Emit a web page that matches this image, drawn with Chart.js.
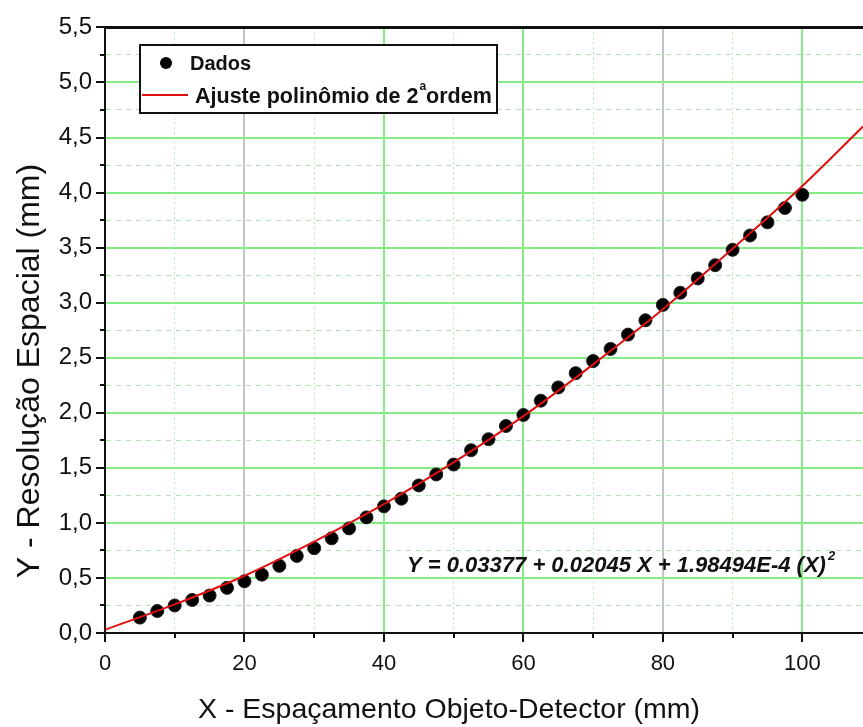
<!DOCTYPE html>
<html>
<head>
<meta charset="utf-8">
<script src="https://cdn.jsdelivr.net/npm/chart.js@4/dist/chart.umd.min.js"></script>
<style>
  html, body { margin: 0; padding: 0; background: #fff; }
  #wrap { width: 863px; height: 727px; }
</style>
</head>
<body>
<div id="wrap"><canvas id="chart" width="863" height="727"></canvas></div>
<script>
// espaçamento objeto-detector (mm) e resolução espacial (mm)
const spacing = [5, 7.5, 10, 12.5, 15, 17.5, 20, 22.5, 25, 27.5, 30, 32.5, 35, 37.5, 40, 42.5, 45, 47.5, 50,
                 52.5, 55, 57.5, 60, 62.5, 65, 67.5, 70, 72.5, 75, 77.5, 80, 82.5, 85, 87.5, 90, 92.5, 95, 97.5, 100];
const resolution = [0.14, 0.20, 0.25, 0.30, 0.34, 0.41, 0.47, 0.53, 0.61, 0.70, 0.77, 0.86, 0.95, 1.05, 1.15, 1.22, 1.34, 1.44, 1.53,
                    1.66, 1.76, 1.88, 1.98, 2.11, 2.23, 2.36, 2.47, 2.58, 2.71, 2.84, 2.98, 3.09, 3.22, 3.34, 3.48, 3.61, 3.73, 3.86, 3.98];

// curva de ajuste
const fitX = [0, 10, 20, 30, 40, 50, 60, 70, 80, 90, 100, 108.7];
const fitY = [0.03, 0.26, 0.52, 0.83, 1.17, 1.55, 1.97, 2.44, 2.94, 3.49, 4.06, 4.60];

const xMax = 108.7;
const yMax = 5.5;

const font = "'Liberation Sans', Arial, sans-serif";

const isMajorX = v => v % 20 === 0;
const isMajorY = v => Math.abs(v * 2 - Math.round(v * 2)) < 1e-6;

// ticks, titles, legend box and equation
const decorations = {
  id: 'decorations',
  afterDraw(chart) {
    const { ctx, chartArea: a, scales: { x, y } } = chart;
    ctx.save();
    ctx.strokeStyle = '#111';
    ctx.lineWidth = 2;
    ctx.beginPath();
    x.ticks.forEach(t => {
      const px = Math.round(x.getPixelForValue(t.value));
      ctx.moveTo(px, a.bottom);
      ctx.lineTo(px, a.bottom + (isMajorX(t.value) ? 9 : 5));
    });
    y.ticks.forEach(t => {
      const py = Math.round(y.getPixelForValue(t.value));
      ctx.moveTo(a.left, py);
      ctx.lineTo(a.left - (isMajorY(t.value) ? 9 : 5), py);
    });
    ctx.stroke();

    // axis titles
    ctx.fillStyle = '#111';
    ctx.textAlign = 'center';
    ctx.textBaseline = 'middle';
    ctx.font = '28.5px ' + font;
    ctx.fillText('X - Espaçamento Objeto-Detector (mm)', 449, 710);
    ctx.save();
    ctx.translate(30, 371);
    ctx.rotate(-Math.PI / 2);
    ctx.font = '32px ' + font;
    ctx.fillText('Y - Resolução Espacial (mm)', 0, 0);
    ctx.restore();

    // legend
    const lx = 140, ly = 45, lw = 357, lh = 68;
    ctx.fillStyle = '#fff';
    ctx.fillRect(lx, ly, lw, lh);
    ctx.strokeStyle = '#111';
    ctx.lineWidth = 2;
    ctx.strokeRect(lx, ly, lw, lh);
    ctx.fillStyle = '#000';
    ctx.beginPath();
    ctx.arc(166, 63, 6, 0, Math.PI * 2);
    ctx.fill();
    ctx.strokeStyle = '#e01010';
    ctx.beginPath();
    ctx.moveTo(142, 95);
    ctx.lineTo(188, 95);
    ctx.stroke();
    ctx.fillStyle = '#111';
    ctx.textAlign = 'left';
    ctx.font = 'bold 20px ' + font;
    ctx.fillText('Dados', 190, 64);
    ctx.font = 'bold 21.5px ' + font;
    let t1 = 'Ajuste polinômio de 2';
    ctx.fillText(t1, 195, 97);
    let w1 = ctx.measureText(t1).width;
    ctx.font = 'bold 12px ' + font;
    ctx.fillText('a', 195 + w1 + 1, 87);
    let w2 = ctx.measureText('a').width;
    ctx.font = 'bold 21.5px ' + font;
    ctx.fillText('ordem', 195 + w1 + w2 + 1, 97);

    // equation
    ctx.font = 'italic bold 22px ' + font;
    const eq = 'Y = 0.03377 + 0.02045 X + 1.98494E-4 (X)';
    ctx.fillText(eq, 407, 566);
    const we = ctx.measureText(eq).width;
    ctx.font = 'italic bold 13px ' + font;
    ctx.fillText('2', 407 + we + 2, 556);
    ctx.restore();
  }
};

new Chart('chart', {
  type: 'scatter',
  plugins: [decorations],
  data: {
    datasets: [
      {
        label: 'Ajuste polinômio de 2ªordem',
        data: fitX.map((v, i) => ({ x: v, y: fitY[i] })),
        showLine: true,
        borderColor: '#e01010',
        borderWidth: 2,
        pointRadius: 0,
        cubicInterpolationMode: 'monotone',
        order: 0
      },
      {
        label: 'Dados',
        data: spacing.map((v, i) => ({ x: v, y: resolution[i] })),
        backgroundColor: '#000',
        borderColor: '#222',
        borderWidth: 1,
        pointRadius: 6.5,
        order: 1
      }
    ]
  },
  options: {
    responsive: false,
    animation: false,
    layout: { autoPadding: false, padding: { top: 24, right: 0, left: 0, bottom: 0 } },
    plugins: { legend: { display: false }, tooltip: { enabled: false } },
    scales: {
      x: {
        type: 'linear',
        min: 0,
        max: xMax,
        afterBuildTicks: s => { s.ticks = s.ticks.filter(t => t.value % 10 === 0); },
        afterFit: s => { s.height = 94; s.paddingRight = 0; },
        ticks: {
          stepSize: 10,
          includeBounds: false,
          autoSkip: false,
          maxRotation: 0,
          padding: 18,
          color: '#111',
          font: { family: font, size: 22 },
          callback: v => isMajorX(v) ? String(v) : ''
        },
        grid: {
          drawTicks: false,
          color: c => {
            const v = c.tick ? c.tick.value : 0;
            if (!isMajorX(v)) return 'rgba(150,215,150,0.7)';
            return (v === 20 || v === 80) ? '#c4c4c4' : '#84ec84';
          },
          lineWidth: c => (c.tick && !isMajorX(c.tick.value)) ? 1 : 2
        },
        border: {
          color: '#111',
          width: 2,
          dash: c => (c.tick && !isMajorX(c.tick.value)) ? [2, 3] : []
        }
      },
      x2: {
        type: 'linear',
        position: 'top',
        min: 0,
        max: xMax,
        afterFit: s => { s.height = 0; s.paddingRight = 0; s.paddingLeft = 0; },
        ticks: { display: false },
        grid: { display: false, drawTicks: false },
        border: { color: '#111', width: 3 }
      },
      y: {
        min: 0,
        max: yMax,
        afterFit: s => { s.width = 105; },
        ticks: {
          stepSize: 0.25,
          autoSkip: false,
          padding: 13,
          color: '#111',
          font: { family: font, size: 24 },
          callback: v => isMajorY(v) ? v.toFixed(1).replace('.', ',') : ''
        },
        grid: {
          drawTicks: false,
          color: c => (c.tick && !isMajorY(c.tick.value)) ? 'rgba(150,220,150,0.75)' : '#84ec84',
          lineWidth: c => (c.tick && !isMajorY(c.tick.value)) ? 1 : 2
        },
        border: {
          color: '#111',
          width: 2,
          dash: c => (c.tick && !isMajorY(c.tick.value)) ? [5, 5] : []
        }
      }
    }
  }
});
</script>
</body>
</html>
